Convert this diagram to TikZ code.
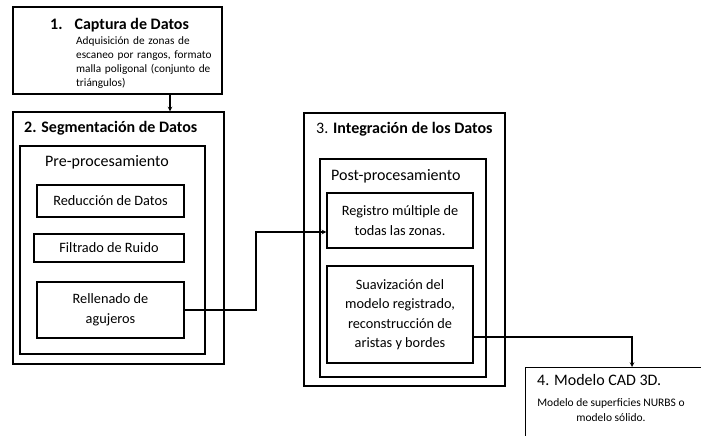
\documentclass[tikz,border=0pt]{standalone}
\usepackage{fontspec}
\setmainfont{Carlito}
\usetikzlibrary{arrows, positioning}

\begin{document}
\begin{tikzpicture}[>=stealth, x=1pt, y=-1pt]
	\tikzstyle{frame} = [draw, line width=1.1pt, rectangle, inner sep=0pt]
	\tikzstyle{title} = [anchor=west, inner sep=0pt, font=\fontsize{16}{18}\selectfont]
	\tikzstyle{step text} = [align=center, inner sep=0pt, font=\fontsize{14.3}{19.5}\selectfont]
	\tikzstyle{small text} = [align=left, inner sep=0pt, font=\fontsize{11.3}{14}\selectfont]

	\useasboundingbox[fill=white] (0,0) rectangle (701,436);
	\clip (0,0) rectangle (701,436);

	% 1. captura
	\node[frame, minimum width=209, minimum height=87] (cap) at (117.5,50.5) {};
	\node[title] (capT) at (50,25) {\textbf{1.\hspace{0.75em}Captura de Datos}};
	\node[small text, anchor=north west, text width=145] (capD) at (76,36)
		{Adquisición de zonas de\\escaneo por rangos, formato\\malla poligonal (conjunto de\\triángulos)};

	% 2. segmentacion
	\node[frame, minimum width=211, minimum height=252] (seg) at (118.5,238) {};
	\node[title] (segT) at (24,128) {\textbf{2. Segmentación de Datos}};
	\node[frame, minimum width=185, minimum height=208] (pre) at (112.5,250) {};
	\node[title] (preT) at (45,162) {Pre-procesamiento};
	\node[frame, minimum width=147, minimum height=32] (red) at (110.5,201) {};
	\node[step text] at (red) {Reducción de Datos};
	\node[frame, minimum width=150, minimum height=28] (fil) at (109,248) {};
	\node[step text] at (fil) {Filtrado de Ruido};
	\node[frame, minimum width=147, minimum height=56] (rell) at (110.5,310) {};
	\node[step text] at (rell) {Rellenado de\\agujeros};

	% 3. integracion
	\node[frame, minimum width=201, minimum height=273] (int) at (404.5,249.5) {};
	\node[title] (intT) at (316,129) {3. \textbf{Integración de los Datos}};
	\node[frame, minimum width=166, minimum height=218] (post) at (403,268) {};
	\node[title] (postT) at (331,176) {Post-procesamiento};
	\node[frame, minimum width=146, minimum height=55] (reg) at (400,220.5) {};
	\node[step text] at (reg) {Registro múltiple de\\todas las zonas.};
	\node[frame, minimum width=146, minimum height=97] (suav) at (400,314.5) {};
	\node[step text] at (suav) {Suavización del\\modelo registrado,\\reconstrucción de\\aristas y bordes};

	% 4. modelo cad
	\node[frame, anchor=north west, minimum width=200, minimum height=100] (cad) at (525,367) {};
	\node[title] (cadT) at (537,380) {4. Modelo CAD 3D.};
	\node[align=center, inner sep=0pt, font=\fontsize{11.5}{15}\selectfont] (cadD) at (611,410)
		{Modelo de superficies NURBS o\\modelo sólido.};

	% conectores
	\coordinate (drop) at (170,100);
	\coordinate (bend) at (256,232);
	\coordinate (turn) at (632,337);
	\draw[->, line width=1.1pt] (drop |- cap.south) -- (drop |- seg.north);
	\draw[->, line width=1.1pt] (rell.east) -| (bend) -- (bend -| reg.west);
	\draw[->, line width=1.1pt] (suav.east |- turn) -- (turn) -- (turn |- cad.north);
\end{tikzpicture}
\end{document}
